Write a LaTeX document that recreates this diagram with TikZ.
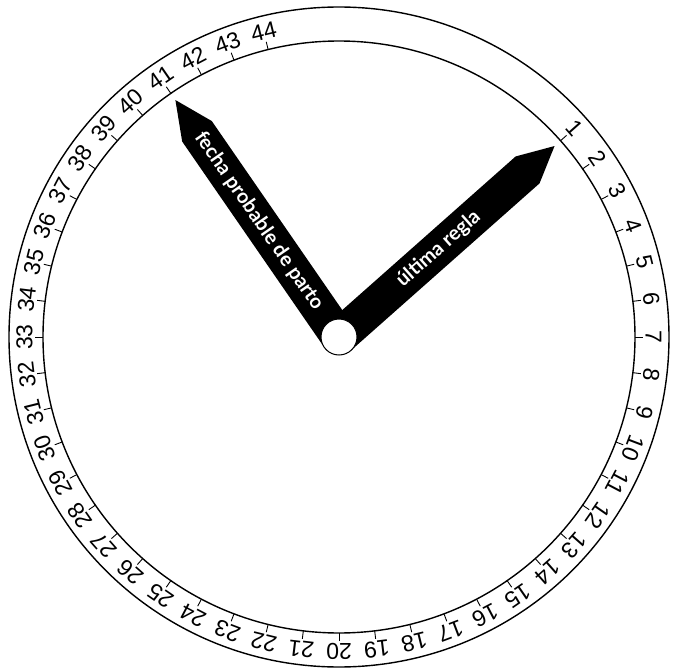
\documentclass[tikz,border=0pt]{standalone}
\usepackage{fontspec}
\setmainfont{Liberation Sans}
\newfontfamily\handfont{Lato}
\begin{document}
\begin{tikzpicture}[x=1pt,y=1pt,
  ring/.style={line width=1.4pt},
  tickmark/.style={line width=0.9pt},
  weeknum/.style={font=\fontsize{23}{23}\selectfont, inner sep=0pt},
  handshape/.style={fill=black},
  handlabel/.style={text=white, font=\handfont\bfseries\fontsize{20}{20}\selectfont, inner sep=0pt},
  hub/.style={circle, draw=black, fill=white, line width=1pt, minimum size=36pt, inner sep=0pt}]
\useasboundingbox (-339,-333) rectangle (339,337);
\draw[ring] (0,0) circle (330);
\draw[ring] (0,0) circle (296);
\foreach \n in {1,...,44}{
  \pgfmathsetmacro\ang{(7-\n)*360/52}
  \draw[tickmark] (\ang:296) -- (\ang:304);
  \node[weeknum, rotate=\ang-90] (w\n) at (\ang:314.5) {\n};
}
\begin{scope}[rotate=41.54]
  \fill[handshape] (0,-18) -- (252,-18) -- (288,0) -- (252,18) -- (0,18)
    arc[start angle=90, end angle=270, radius=18] -- cycle;
\end{scope}
\node[handlabel, rotate=41.54] (lmp) at (41.54:133) {última regla};
\begin{scope}[rotate=124.62]
  \fill[handshape] (0,-18) -- (250,-18) -- (288,0) -- (250,18) -- (0,18)
    arc[start angle=90, end angle=270, radius=18] -- cycle;
\end{scope}
\node[handlabel, rotate=-55.38] (fpp) at (124.62:141) {fecha probable de parto};
\node[hub] (hub) at (0,0) {};
\end{tikzpicture}
\end{document}
